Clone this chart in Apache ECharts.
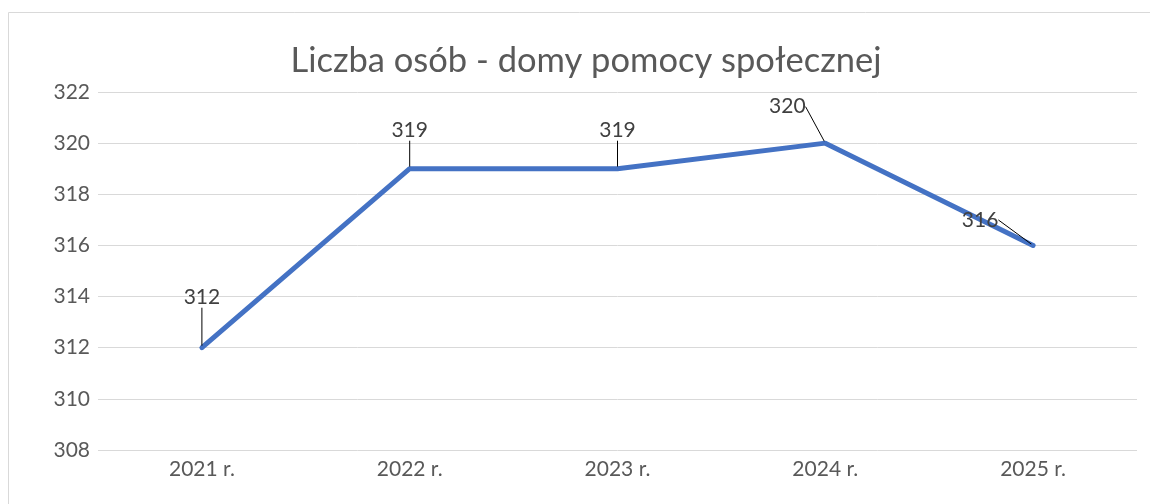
<!DOCTYPE html>
<html>
<head>
<meta charset="utf-8">
<script src="https://cdn.jsdelivr.net/npm/echarts@6/dist/echarts.min.js"></script>
<style>
  html, body { margin: 0; padding: 0; background: #fff; }
  #main { width: 1150px; height: 504px; }
</style>
</head>
<body>
<div id="main"></div>
<script>
const years = ["2021 r.", "2022 r.", "2023 r.", "2024 r.", "2025 r."];
const persons = [312, 319, 319, 320, 316];
const yTicks = { min: 308, max: 322, interval: 2 };

const chart = echarts.init(document.getElementById("main"));

// label shifts like in the original callouts
const labelShift = [
  { dx: 0, dy: -33 },
  { dx: 0, dy: -21 },
  { dx: 0, dy: -21 },
  { dx: -38, dy: -19 },
  { dx: -53, dy: -8 },
];

const option = {
  textStyle: { fontFamily: "Lato" },
  title: {
    text: "Liczba osób - domy pomocy społecznej",
    left: 581,
    textAlign: "center",
    top: 38,
    textStyle: {
      fontFamily: "Lato",
      fontSize: 34.5,
      fontWeight: "normal",
      color: "#595959",
    },
  },
  graphic: [
    {
      type: "rect",
      shape: { x: 8.5, y: 12.5, width: 1200, height: 600 },
      style: { fill: "none", stroke: "#d9d9d9", lineWidth: 1 },
      silent: true,
    },
  ],
  grid: { left: 98, right: 13, top: 92, bottom: 54 },
  xAxis: {
    type: "category",
    data: years,
    boundaryGap: true,
    axisLine: { show: false },
    axisTick: { show: false },
    axisLabel: { color: "#595959", fontSize: 21, margin: 9 },
  },
  yAxis: {
    type: "value",
    min: yTicks.min,
    max: yTicks.max,
    interval: yTicks.interval,
    axisLine: { show: false },
    axisTick: { show: false },
    axisLabel: { color: "#595959", fontSize: 21, margin: 8 },
    splitLine: { lineStyle: { color: "#d9d9d9", width: 1 } },
  },
  series: [
    {
      type: "line",
      data: persons,
      symbol: "circle",
      symbolSize: 4,
      showSymbol: true,
      itemStyle: { color: "#4472C4" },
      lineStyle: { color: "#4472C4", width: 5, cap: "round", join: "round" },
      label: {
        show: true,
        position: "top",
        color: "#404040",
        fontSize: 21,
      },
      labelLine: {
        show: true,
        lineStyle: { color: "#000", width: 1 },
      },
      labelLayout: (p) => labelShift[p.dataIndex],
      silent: true,
    },
  ],
};

chart.setOption(option);
</script>
</body>
</html>
